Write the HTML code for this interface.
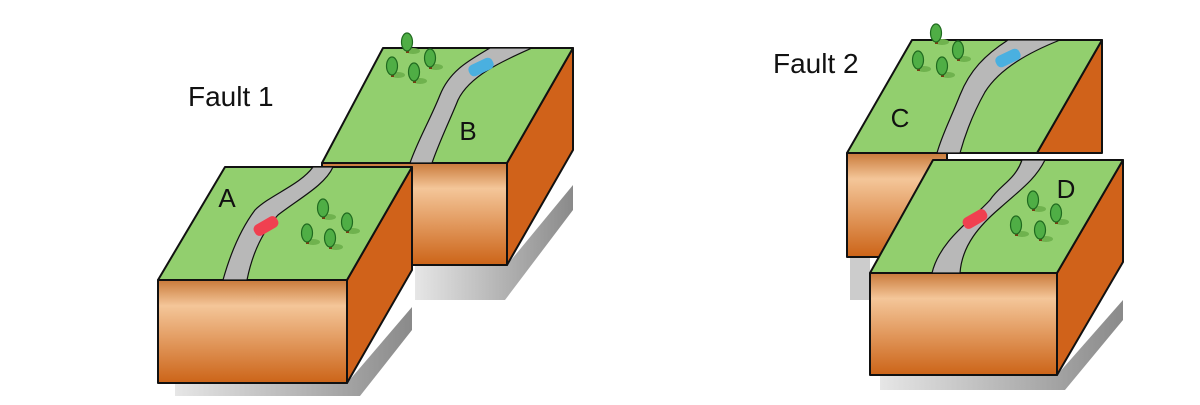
<!DOCTYPE html>
<html><head><style>body{margin:0;background:#fff}svg{display:block}</style></head><body>
<svg width="1200" height="405" viewBox="0 0 1200 405" xmlns="http://www.w3.org/2000/svg" font-family="Liberation Sans, sans-serif">
<defs>
<linearGradient id="fr" x1="0" y1="0" x2="0" y2="1"><stop offset="0" stop-color="#c97a3a"/><stop offset="0.25" stop-color="#f4c699"/><stop offset="1" stop-color="#cc6418"/></linearGradient>
<linearGradient id="sh" x1="0" y1="0" x2="1" y2="0"><stop offset="0" stop-color="#e6e6e6"/><stop offset="1" stop-color="#8a8a8a"/></linearGradient>
<g id="tree"><ellipse cx="6" cy="9" rx="7" ry="3" fill="#6fb24e"/><rect x="-1" y="4" width="3" height="7" fill="#7a3b12"/><ellipse cx="0" cy="0" rx="5.5" ry="9" fill="#4fae45" stroke="#1f6a1f" stroke-width="1.2"/></g>
</defs>
<g stroke="#111" stroke-width="2" stroke-linejoin="round">
<polygon points="415,265 507,265 573,185 573,210 505,300 415,300" fill="url(#sh)" stroke="none"/>
<polygon points="175,383 347,383 412,307 412,330 360,396 175,396" fill="url(#sh)" stroke="none"/>
<polygon points="850,255 870,255 870,300 850,300" fill="#ccc" stroke="none"/>
<polygon points="880,375 1057,375 1123,300 1123,320 1065,390 880,390" fill="url(#sh)" stroke="none"/>
<polygon points="573,48 507,163 507,265 573,150" fill="#d0621a"/>
<rect x="322" y="163" width="185" height="102" fill="url(#fr)"/>
<polygon points="383,48 573,48 507,163 322,163" fill="#92cf6e"/>
<path d="M490,48 C470,60 450,70 440,95 C430,120 418,140 410,163 L432,163 C440,140 450,120 458,100 C470,75 505,60 532,48 Z" fill="#b8b8b8" stroke-width="1.2"/>
<polygon points="412,167 347,280 347,383 412,270" fill="#d0621a"/>
<rect x="158" y="280" width="189" height="103" fill="url(#fr)"/>
<polygon points="225,167 412,167 347,280 158,280" fill="#92cf6e"/>
<path d="M313,167 C300,185 270,195 255,210 C240,230 230,255 223,280 L247,280 C252,255 262,232 278,215 C300,198 325,185 333,167 Z" fill="#b8b8b8" stroke-width="1.2"/>
<polygon points="1102,40 1037,153 1102,153" fill="#d0621a"/>
<rect x="847" y="153" width="100" height="104" fill="url(#fr)"/>
<polygon points="912,40 1102,40 1037,153 847,153" fill="#92cf6e"/>
<path d="M1008,40 C985,55 970,70 960,95 C950,120 942,135 937,153 L960,153 C965,135 972,115 985,92 C1000,68 1030,52 1060,40 Z" fill="#b8b8b8" stroke-width="1.2"/>
<polygon points="1123,160 1057,273 1057,375 1123,262" fill="#d0621a"/>
<rect x="870" y="273" width="187" height="102" fill="url(#fr)"/>
<polygon points="933,160 1123,160 1057,273 870,273" fill="#92cf6e"/>
<path d="M1022,160 C1015,180 1000,185 990,200 C972,220 940,240 932,273 L960,273 C962,245 980,225 1000,208 C1020,190 1035,180 1045,160 Z" fill="#b8b8b8" stroke-width="1.2"/>
</g>
<g stroke="none">
<rect x="-13" y="-6" width="26" height="12" rx="5" fill="#4ab0e0" transform="translate(481,67) rotate(-25)"/>
<rect x="-13" y="-6" width="26" height="12" rx="5" fill="#f04050" transform="translate(266,226) rotate(-30)"/>
<rect x="-13" y="-6" width="26" height="12" rx="5" fill="#4ab0e0" transform="translate(1008,58) rotate(-25)"/>
<rect x="-13" y="-6" width="26" height="12" rx="5" fill="#f04050" transform="translate(975,219) rotate(-30)"/>
</g>
<use href="#tree" x="407" y="42"/><use href="#tree" x="392" y="66"/><use href="#tree" x="414" y="72"/><use href="#tree" x="430" y="58"/>
<use href="#tree" x="323" y="208"/><use href="#tree" x="307" y="233"/><use href="#tree" x="330" y="238"/><use href="#tree" x="347" y="222"/>
<use href="#tree" x="936" y="33"/><use href="#tree" x="918" y="60"/><use href="#tree" x="942" y="66"/><use href="#tree" x="958" y="50"/>
<use href="#tree" x="1033" y="200"/><use href="#tree" x="1016" y="225"/><use href="#tree" x="1040" y="230"/><use href="#tree" x="1056" y="213"/>
<g fill="#111" font-size="28">
<text x="188" y="106">Fault 1</text>
<text x="773" y="73">Fault 2</text>
<text x="227" y="207" font-size="26" text-anchor="middle">A</text>
<text x="468" y="140" font-size="26" text-anchor="middle">B</text>
<text x="900" y="127" font-size="26" text-anchor="middle">C</text>
<text x="1066" y="198" font-size="26" text-anchor="middle">D</text>
</g>
</svg>
</body></html>
